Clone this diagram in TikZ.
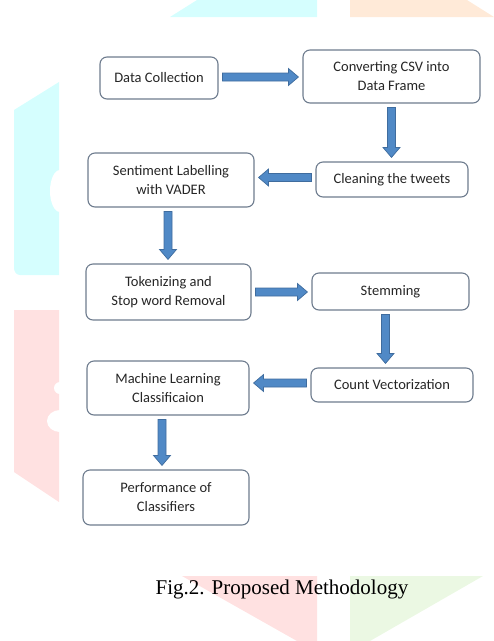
\documentclass[tikz,border=0pt]{standalone}
\usepackage{fontspec}
\setmainfont{Liberation Serif}
\newfontfamily\boxfont{Carlito}
\usetikzlibrary{calc}
\definecolor{wmcyan}{HTML}{D5FEFE}
\definecolor{wmorange}{HTML}{FFEAD8}
\definecolor{wmpink}{HTML}{FFE1E1}
\definecolor{wmgreen}{HTML}{EBF8E3}
\definecolor{boxedge}{HTML}{6E7C8E}
\definecolor{arrowblue}{HTML}{5089C6}
\definecolor{arrowedge}{HTML}{3F6C9E}
\tikzset{
  stepbox/.style={draw=boxedge, line width=1.1pt, rounded corners=7pt, fill=white,
    inner sep=0pt, align=center, font=\boxfont\fontsize{14.5}{19}\selectfont,
    text=black!85},
  blockarrow/.style={fill=arrowblue, draw=arrowedge, line width=0.7pt,
    to path={
      let \p1=(\tikztostart), \p2=(\tikztotarget),
          \n1={atan2(\y2-\y1,\x2-\x1)}, \n2={veclen(\x2-\x1,\y2-\y1)} in
      {[shift={(\p1)}, rotate=\n1]
        (4,-4) -- ({\n2-14},-4) -- ({\n2-14},-8.5) -- ({\n2-4},0) --
        ({\n2-14},8.5) -- ({\n2-14},4) -- (4,4) -- cycle}
    }},
}
\begin{document}
\begin{tikzpicture}[x=1pt,y=-1pt]
\useasboundingbox (0,0) rectangle (494,641);
% faint background shapes
\fill[wmcyan] (14,110) -- (59,82) -- (59,275) -- (20,275) to[out=180,in=-90] (14,268) -- cycle;
\fill[white] (60,191) ellipse [x radius=10, y radius=21];
\fill[wmpink] (14,310) -- (59,310) -- (59,502) -- (14,472) -- cycle;
\fill[white] (60,421) ellipse [x radius=13, y radius=11];
\fill[white] (60,388) ellipse [x radius=6, y radius=6];
\fill[wmcyan] (170,17) -- (197,0) -- (317,0) -- (317,17) -- cycle;
\fill[wmorange] (350,0) -- (467,0) -- (494,17) -- (350,17) -- cycle;
\fill[wmpink] (182,576) -- (317,576) -- (317,641) -- (297,641) -- cycle;
\fill[wmgreen] (350,576) -- (483,576) -- (370,641) -- (350,641) -- cycle;

% boxes
\node[stepbox, minimum width=118, minimum height=42] (dc) at (159,78) {Data Collection};
\node[stepbox, minimum width=177, minimum height=53] (csv) at (391.5,76.5) {Converting CSV into\\Data Frame};
\node[stepbox, minimum width=152, minimum height=35] (clean) at (392,179.5) {Cleaning the tweets};
\node[stepbox, minimum width=166, minimum height=54] (sent) at (171,180) {Sentiment Labelling\\with VADER};
\node[stepbox, minimum width=165, minimum height=56] (tok) at (168.5,292) {Tokenizing and\\Stop word Removal};
\node[stepbox, minimum width=157, minimum height=37] (stem) at (390.5,291.5) {Stemming};
\node[stepbox, minimum width=162, minimum height=34] (cnt) at (392,385) {Count Vectorization};
\node[stepbox, minimum width=162, minimum height=54] (ml) at (168,388) {Machine Learning\\Classificaion};
\node[stepbox, minimum width=166, minimum height=55] (perf) at (166,497.5) {Performance of\\Classifiers};

% block arrows
\draw[blockarrow] ([yshift=1]dc.east) to ([yshift=1]dc.east -| csv.west);
\draw[blockarrow] (csv.south) to (csv.south |- clean.north);
\draw[blockarrow] ([yshift=2]clean.west) to ([yshift=2]clean.west -| sent.east);
\draw[blockarrow] ([xshift=-3]sent.south) to ([xshift=-3]sent.south |- tok.north);
\draw[blockarrow] (tok.east) to (tok.east -| stem.west);
\draw[blockarrow] ([xshift=-5]stem.south) to ([xshift=-5]stem.south |- cnt.north);
\draw[blockarrow] ([yshift=2]cnt.west) to ([yshift=2]cnt.west -| ml.east);
\draw[blockarrow] ([xshift=-6]ml.south) to ([xshift=-6]ml.south |- perf.north);

% caption
\node[font=\fontsize{21}{25}\selectfont, inner sep=0pt] (cap) at (282,589) {Fig.2. Proposed Methodology};
\end{tikzpicture}
\end{document}
